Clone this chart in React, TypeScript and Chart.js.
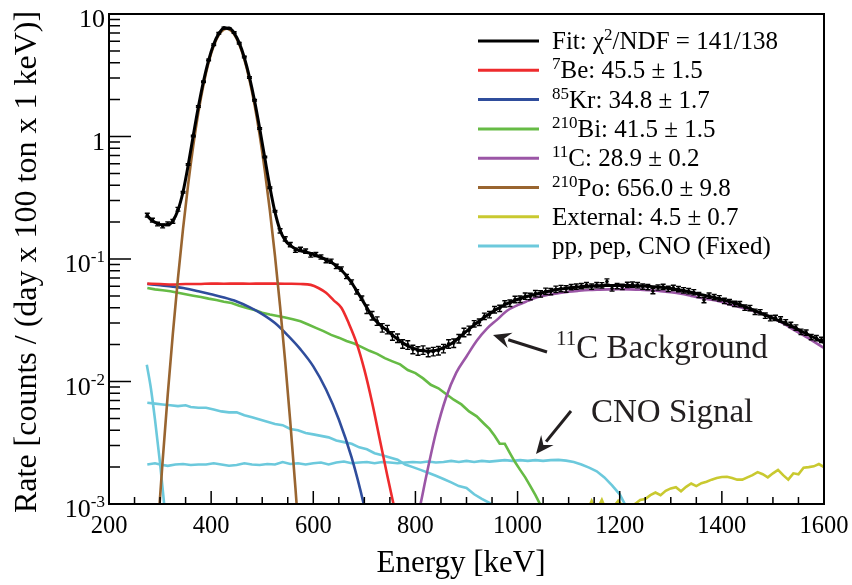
import React, { useEffect, useRef } from "react";
import { Chart, registerables } from "chart.js";

Chart.register(...registerables);

const SERIF = '"Liberation Serif", "Times New Roman", Times, serif';

// ---------- measured spectrum (bin centres, keV) ----------
const BIN_E = [
  275, 285, 295, 305, 315, 325, 335, 345, 355, 365, 375, 385, 395, 405, 415, 425, 435, 445, 455, 465,
  475, 485, 495, 505, 515, 525, 535, 545, 555, 565, 575, 585, 595, 605, 615, 625, 635, 645, 655, 665,
  675, 685, 695, 705, 715, 725, 735, 745, 755, 765, 775, 785, 795, 805, 815, 825, 835, 845, 855, 865,
  875, 885, 895, 905, 915, 925, 935, 945, 955, 965, 975, 985, 995, 1005, 1015, 1025, 1035, 1045, 1055, 1065,
  1075, 1085, 1095, 1105, 1115, 1125, 1135, 1145, 1155, 1165, 1175, 1185, 1195, 1205, 1215, 1225, 1235, 1245, 1255, 1265,
  1275, 1285, 1295, 1305, 1315, 1325, 1335, 1345, 1355, 1365, 1375, 1385, 1395, 1405, 1415, 1425, 1435, 1445, 1455, 1465,
  1475, 1485, 1495, 1505, 1515, 1525, 1535, 1545, 1555, 1565, 1575, 1585, 1595,
];

const DATA_RATE = [
  0.228, 0.208, 0.193, 0.186, 0.194, 0.203, 0.255, 0.35, 0.59, 1.01,
  1.76, 2.8, 4.22, 5.62, 6.95, 7.7, 7.6, 7.05, 5.78, 4.45,
  3.03, 1.98, 1.16, 0.68, 0.382, 0.245, 0.17, 0.146, 0.131, 0.118,
  0.12, 0.116, 0.108, 0.109, 0.104, 0.097, 0.096, 0.087, 0.083, 0.072,
  0.065, 0.054, 0.048, 0.039, 0.0345, 0.0312, 0.0275, 0.0266, 0.0236, 0.0226,
  0.0203, 0.0199, 0.0183, 0.0178, 0.0181, 0.0173, 0.0176, 0.0179, 0.0186, 0.0203,
  0.0206, 0.0224, 0.0252, 0.0262, 0.0296, 0.0305, 0.0341, 0.0352, 0.0386, 0.0396,
  0.0431, 0.0436, 0.0468, 0.047, 0.0498, 0.0495, 0.0522, 0.052, 0.0546, 0.0543,
  0.0567, 0.0575, 0.057, 0.059, 0.0595, 0.0601, 0.0612, 0.0596, 0.0612, 0.0611,
  0.0655, 0.0575, 0.0602, 0.0592, 0.0615, 0.0618, 0.0612, 0.0596, 0.0591, 0.0548,
  0.0586, 0.0592, 0.0571, 0.0581, 0.0568, 0.0556, 0.0547, 0.0536, 0.0509, 0.0462,
  0.0502, 0.0489, 0.0478, 0.0455, 0.0445, 0.0431, 0.0428, 0.0401, 0.0398, 0.0371,
  0.0368, 0.0345, 0.0329, 0.0331, 0.0322, 0.0305, 0.029, 0.0276, 0.0255, 0.0251,
  0.0231, 0.0226, 0.0219,
];

// relative statistical error per energy band: [from keV, to keV, fraction]
const ERR_BANDS: [number, number, number][] = [
  [270, 340, 0.035],
  [340, 530, 0.015],
  [530, 700, 0.04],
  [700, 910, 0.08],
  [910, 1100, 0.06],
  [1100, 1600, 0.05],
];

// ---------- total fit ----------
const FIT_E = [...BIN_E, 1600];
const FIT_RATE = [
  0.225, 0.205, 0.195, 0.19, 0.19, 0.205, 0.25, 0.354, 0.582, 1.017,
  1.745, 2.82, 4.19, 5.66, 6.92, 7.66, 7.67, 6.99, 5.81, 4.41,
  3.06, 1.96, 1.17, 0.67, 0.387, 0.241, 0.172, 0.142, 0.129, 0.121,
  0.117, 0.114, 0.111, 0.107, 0.103, 0.099, 0.094, 0.088, 0.081, 0.073,
  0.064, 0.055, 0.047, 0.04, 0.034, 0.0305, 0.028, 0.026, 0.024, 0.0222,
  0.0207, 0.0195, 0.0187, 0.0181, 0.0178, 0.0177, 0.0178, 0.0182, 0.0189, 0.0198,
  0.021, 0.0228, 0.0247, 0.0268, 0.029, 0.0312, 0.0334, 0.0357, 0.038, 0.0402,
  0.0423, 0.0442, 0.046, 0.0476, 0.049, 0.0503, 0.0515, 0.0527, 0.0538, 0.055,
  0.056, 0.0568, 0.0576, 0.0583, 0.0589, 0.0594, 0.0598, 0.0601, 0.0604, 0.0606,
  0.0607, 0.0608, 0.0608, 0.0608, 0.0607, 0.0606, 0.0604, 0.0602, 0.0599, 0.0595,
  0.059, 0.0584, 0.0577, 0.0569, 0.056, 0.055, 0.0539, 0.0528, 0.0517, 0.0506,
  0.0495, 0.0484, 0.0473, 0.0462, 0.045, 0.0437, 0.0423, 0.0408, 0.0393, 0.0378,
  0.0363, 0.0349, 0.0336, 0.0323, 0.031, 0.0297, 0.0284, 0.0271, 0.0258, 0.0246,
  0.0234, 0.0223, 0.0213, 0.0208,
];

// ---------- fit components ----------
const BE7_E = [275, 300, 325, 350, 375, 400, 425, 450, 475, 500, 525, 550, 575, 595, 610, 625, 640, 655, 670, 685, 700, 715, 730, 745, 760];
const BE7_RATE = [0.063, 0.0625, 0.062, 0.0625, 0.0625, 0.063, 0.0628, 0.063, 0.0628, 0.063, 0.063, 0.0628, 0.0625, 0.0615, 0.058, 0.053, 0.046, 0.04, 0.0295, 0.0205, 0.0125, 0.0068, 0.0034, 0.0017, 0.00088];

const KR85_E = [275, 300, 325, 350, 375, 400, 425, 450, 475, 500, 525, 550, 575, 600, 625, 650, 675, 700, 710];
const KR85_RATE = [0.0625, 0.061, 0.0595, 0.0575, 0.0545, 0.0515, 0.0485, 0.045, 0.0405, 0.0355, 0.03, 0.0238, 0.0183, 0.0133, 0.0086, 0.0049, 0.0024, 0.00095, 0.0006];

const BI210_E = [
  275, 290, 305, 320, 335, 350, 365, 380, 395, 410, 425, 440, 455, 470, 485, 500, 515, 530, 545, 560,
  575, 590, 605, 620, 635, 650, 665, 680, 695, 710, 725, 740, 755, 770, 785, 800, 815, 830, 845, 860,
  875, 890, 905, 920, 935, 945, 955, 965, 975, 985, 995, 1005, 1015, 1025, 1035, 1045, 1055,
];
const BI210_RATE = [
  0.058, 0.0565, 0.0555, 0.0545, 0.053, 0.0515, 0.0502, 0.049, 0.0475, 0.0462, 0.0448, 0.0437, 0.0415, 0.0398, 0.0384, 0.0364, 0.0352, 0.0342, 0.0333, 0.0322,
  0.031, 0.0292, 0.0274, 0.0258, 0.024, 0.0228, 0.0214, 0.0204, 0.0191, 0.0178, 0.0168, 0.0155, 0.0146, 0.0138, 0.0124, 0.0117, 0.0106, 0.0094, 0.0088, 0.0079,
  0.0071, 0.0065, 0.0057, 0.0052, 0.0045, 0.0041, 0.0036, 0.0031, 0.0031, 0.0026, 0.0022, 0.0019, 0.00165, 0.0014, 0.00118, 0.00098, 0.0007,
];

const C11_E = [
  800, 810, 820, 840, 860, 880, 900, 920, 940, 960, 980, 1000, 1020, 1040, 1060, 1080, 1100, 1120, 1140, 1160,
  1180, 1200, 1220, 1240, 1260, 1280, 1300, 1320, 1340, 1360, 1380, 1400, 1420, 1440, 1460, 1480, 1500, 1520, 1540, 1560,
  1580, 1600,
];
const C11_RATE = [
  0.0007, 0.001, 0.0016, 0.0038, 0.0074, 0.0118, 0.016, 0.0215, 0.027, 0.032, 0.038, 0.042, 0.0455, 0.049, 0.051, 0.0525, 0.054, 0.055, 0.0558, 0.0562,
  0.0565, 0.0566, 0.0565, 0.0562, 0.0555, 0.0547, 0.0535, 0.052, 0.05, 0.048, 0.0465, 0.0445, 0.042, 0.04, 0.0378, 0.0355, 0.033, 0.0298, 0.0265, 0.0238,
  0.0212, 0.0188,
];

const PO210_E = [
  285, 295, 305, 315, 325, 335, 345, 355, 365, 375, 385, 395, 405, 415, 425, 430, 435, 445, 455, 465,
  475, 485, 495, 505, 515, 525, 535, 545, 555, 565, 575,
];
const PO210_RATE = [
  0.00013, 0.00058, 0.00224, 0.0078, 0.0245, 0.0694, 0.177, 0.407, 0.844, 1.574, 2.65, 4.02, 5.49, 6.76, 7.5, 7.6, 7.51, 6.83, 5.65, 4.26,
  2.91, 1.816, 1.028, 0.53, 0.249, 0.106, 0.0411, 0.0145, 0.00466, 0.00136, 0.00036,
];

const EXT_E = [
  1100, 1110, 1120, 1130, 1140, 1145, 1150, 1160, 1165, 1170, 1180, 1190, 1197, 1205, 1215, 1230, 1240, 1250, 1260, 1270,
  1280, 1290, 1300, 1310, 1320, 1330, 1340, 1350, 1360, 1370, 1380, 1390, 1400, 1410, 1420, 1430, 1440, 1450, 1460, 1470,
  1480, 1490, 1500, 1510, 1520, 1530, 1540, 1550, 1560, 1570, 1580, 1590, 1600,
];
const EXT_RATE = [
  0.0006, 0.0007, 0.0008, 0.0009, 0.00095, 0.00106, 0.00095, 0.00098, 0.00108, 0.00096, 0.0009, 0.00097, 0.00106, 0.00097, 0.00094, 0.001, 0.00108, 0.0011, 0.00118, 0.00124,
  0.00118, 0.00128, 0.00134, 0.00137, 0.00127, 0.00138, 0.00147, 0.0014, 0.00148, 0.00152, 0.00158, 0.00163, 0.00166, 0.00167, 0.00163, 0.00158, 0.00158, 0.00165, 0.00172, 0.00182,
  0.00175, 0.00165, 0.00178, 0.0019, 0.00172, 0.00158, 0.00178, 0.00175, 0.00198, 0.002, 0.00203, 0.00212, 0.002,
];

const PP_E = [274, 282, 290, 300, 308, 314];
const PP_RATE = [0.0137, 0.0088, 0.0049, 0.00215, 0.001, 0.0006];

const PEP_E = [
  275, 290, 305, 320, 335, 350, 360, 375, 390, 405, 420, 435, 450, 465, 480, 495, 510, 525, 540, 555,
  570, 585, 600, 615, 630, 645, 660, 675, 690, 705, 720, 735, 750, 765, 780, 795, 810, 825, 840, 855,
  870, 885, 900, 915, 930, 945, 955,
];
const PEP_RATE = [
  0.0067, 0.0066, 0.0065, 0.0064, 0.0063, 0.0064, 0.0062, 0.0061, 0.0061, 0.0059, 0.0057, 0.0056, 0.0056, 0.0053, 0.0051, 0.0049, 0.0047, 0.0045, 0.0044, 0.0041,
  0.004, 0.0038, 0.0037, 0.0036, 0.0035, 0.0033, 0.0032, 0.0031, 0.0029, 0.0028, 0.0026, 0.0025, 0.0024, 0.0023, 0.0021, 0.002, 0.0019, 0.0018, 0.0017, 0.0016,
  0.0015, 0.0014, 0.00135, 0.0012, 0.0011, 0.00102, 0.00095,
];

const CNO_E = [
  275, 290, 300, 315, 330, 345, 360, 375, 390, 405, 420, 435, 450, 465, 480, 495, 510, 525, 540, 555,
  570, 585, 600, 615, 630, 645, 660, 675, 690, 705, 720, 735, 750, 765, 780, 795, 810, 825, 840, 855,
  870, 885, 900, 915, 930, 945, 960, 975, 990, 1005, 1020, 1035, 1050, 1065, 1080, 1095, 1110, 1125, 1140, 1155,
  1170, 1185, 1200, 1210, 1220,
];
const CNO_RATE = [
  0.0021, 0.00215, 0.0021, 0.00205, 0.0021, 0.00212, 0.00208, 0.0021, 0.0021, 0.00215, 0.0021, 0.00205, 0.00208, 0.00215, 0.0021, 0.00208, 0.00212, 0.0021, 0.0022, 0.00212,
  0.00215, 0.0021, 0.00215, 0.00218, 0.0021, 0.00218, 0.00222, 0.00215, 0.00218, 0.0022, 0.00215, 0.0022, 0.00218, 0.00215, 0.00218, 0.0022, 0.00218, 0.00222, 0.00218, 0.0022,
  0.00225, 0.0022, 0.00225, 0.0022, 0.00225, 0.00222, 0.00225, 0.00228, 0.00225, 0.00228, 0.00225, 0.00228, 0.00225, 0.00228, 0.00229, 0.00226, 0.0022, 0.0021, 0.00198, 0.00185,
  0.00165, 0.00142, 0.0012, 0.001, 0.0008,
];

// ---------- axes ----------
const X_MIN = 200;
const X_MAX = 1600;
const X_LABELS = [200, 400, 600, 800, 1000, 1200, 1400, 1600];
const X_MINOR_STEP = 50;
const Y_MIN = 0.001;
const Y_MAX = 10;
const Y_DECADES = [0.001, 0.01, 0.1, 1, 10];
const Y_LABELS: { v: number; base: string; exp: string }[] = [
  { v: 10, base: "10", exp: "" },
  { v: 1, base: "1", exp: "" },
  { v: 0.1, base: "10", exp: "-1" },
  { v: 0.01, base: "10", exp: "-2" },
  { v: 0.001, base: "10", exp: "-3" },
];

// ---------- colours ----------
const COL_FIT = "#000000";
const COL_BE7 = "#ee2b2d";
const COL_KR = "#2f4d9c";
const COL_BI = "#66bb45";
const COL_C11 = "#9b56a6";
const COL_PO = "#996530";
const COL_EXT = "#c9c930";
const COL_NU = "#6cc9dc";
const COL_NOTE = "#231f20";

type Part = { t: string; sup?: boolean };

const LEGEND: { color: string; width: number; parts: Part[] }[] = [
  { color: COL_FIT, width: 3.2, parts: [{ t: "Fit: \u03c7" }, { t: "2", sup: true }, { t: "/NDF = 141/138" }] },
  { color: COL_BE7, width: 3, parts: [{ t: "7", sup: true }, { t: "Be: 45.5 \u00b1 1.5" }] },
  { color: COL_KR, width: 3, parts: [{ t: "85", sup: true }, { t: "Kr: 34.8 \u00b1 1.7" }] },
  { color: COL_BI, width: 3, parts: [{ t: "210", sup: true }, { t: "Bi: 41.5 \u00b1 1.5" }] },
  { color: COL_C11, width: 3, parts: [{ t: "11", sup: true }, { t: "C: 28.9 \u00b1 0.2" }] },
  { color: COL_PO, width: 3, parts: [{ t: "210", sup: true }, { t: "Po: 656.0 \u00b1 9.8" }] },
  { color: COL_EXT, width: 3, parts: [{ t: "External: 4.5 \u00b1 0.7" }] },
  { color: COL_NU, width: 3, parts: [{ t: "pp, pep, CNO (Fixed)" }] },
];

const toXY = (E: number[], V: number[]) => E.map((x, i) => ({ x, y: V[i] }));

function relErr(e: number): number {
  for (const [a, b, r] of ERR_BANDS) if (e >= a && e < b) return r;
  return 0.05;
}

function drawRich(
  ctx: CanvasRenderingContext2D,
  x: number,
  y: number,
  parts: Part[],
  size: number,
  supSize: number,
  raise: number
) {
  let cx = x;
  for (const p of parts) {
    ctx.font = `${p.sup ? supSize : size}px ${SERIF}`;
    ctx.fillText(p.t, cx, p.sup ? y - raise : y);
    cx += ctx.measureText(p.t).width;
  }
  return cx;
}

function arrow(ctx: CanvasRenderingContext2D, x0: number, y0: number, x1: number, y1: number) {
  const ang = Math.atan2(y1 - y0, x1 - x0);
  const head = 18;
  const half = 8;
  const bx = x1 - head * Math.cos(ang);
  const by = y1 - head * Math.sin(ang);
  ctx.beginPath();
  ctx.moveTo(x0, y0);
  ctx.lineTo(bx + 2 * Math.cos(ang), by + 2 * Math.sin(ang));
  ctx.stroke();
  ctx.beginPath();
  ctx.moveTo(x1, y1);
  ctx.lineTo(bx + half * Math.sin(ang), by - half * Math.cos(ang));
  ctx.lineTo(bx + 0.35 * head * Math.cos(ang), by + 0.35 * head * Math.sin(ang));
  ctx.lineTo(bx - half * Math.sin(ang), by + half * Math.cos(ang));
  ctx.closePath();
  ctx.fill();
}

const decorations = {
  id: "decorations",
  beforeDraw(chart: any) {
    const { ctx, width, height } = chart;
    ctx.save();
    ctx.fillStyle = "#ffffff";
    ctx.fillRect(0, 0, width, height);
    ctx.restore();
  },
  afterDatasetsDraw(chart: any) {
    const { ctx, chartArea } = chart;
    const xs = chart.scales.x;
    const ys = chart.scales.y;
    ctx.save();
    ctx.beginPath();
    ctx.rect(chartArea.left, chartArea.top, chartArea.right - chartArea.left, chartArea.bottom - chartArea.top);
    ctx.clip();
    ctx.strokeStyle = "#000";
    ctx.lineWidth = 1.4;
    BIN_E.forEach((e, i) => {
      const v = DATA_RATE[i];
      const r = relErr(e);
      const px = xs.getPixelForValue(e);
      const y1 = ys.getPixelForValue(v * (1 + r));
      const y2 = ys.getPixelForValue(v * (1 - r));
      ctx.beginPath();
      ctx.moveTo(px, y1);
      ctx.lineTo(px, y2);
      ctx.moveTo(px - 2.5, y1);
      ctx.lineTo(px + 2.5, y1);
      ctx.moveTo(px - 2.5, y2);
      ctx.lineTo(px + 2.5, y2);
      ctx.stroke();
    });
    ctx.restore();
  },
  afterDraw(chart: any) {
    const { ctx, chartArea } = chart;
    const xs = chart.scales.x;
    const ys = chart.scales.y;
    const { left, right, top, bottom } = chartArea;
    ctx.save();

    // frame
    ctx.strokeStyle = "#000";
    ctx.lineWidth = 2;
    ctx.strokeRect(left, top, right - left, bottom - top);

    // x ticks
    ctx.lineWidth = 1.5;
    ctx.beginPath();
    for (let e = X_MIN; e <= X_MAX; e += X_MINOR_STEP) {
      const px = xs.getPixelForValue(e);
      const len = X_LABELS.includes(e) ? 13 : 7;
      ctx.moveTo(px, bottom);
      ctx.lineTo(px, bottom - len);
    }
    // y ticks
    for (const d of Y_DECADES) {
      for (let m = 1; m <= 9; m++) {
        const v = d * m;
        if (v > Y_MAX * 1.0001) break;
        const py = ys.getPixelForValue(v);
        ctx.moveTo(left, py);
        ctx.lineTo(left + (m === 1 ? 22 : 11), py);
      }
    }
    ctx.stroke();

    // tick labels
    ctx.fillStyle = "#000";
    ctx.textBaseline = "alphabetic";
    ctx.font = `24.5px ${SERIF}`;
    ctx.textAlign = "center";
    for (const e of X_LABELS) {
      ctx.fillText(String(e), xs.getPixelForValue(e), 533);
    }
    ctx.textAlign = "left";
    for (const lab of Y_LABELS) {
      const py = ys.getPixelForValue(lab.v);
      ctx.font = `26px ${SERIF}`;
      const wb = ctx.measureText(lab.base).width;
      ctx.font = `17px ${SERIF}`;
      const we = lab.exp ? ctx.measureText(lab.exp).width : 0;
      const x0 = 105 - wb - we;
      const base = py + 13;
      ctx.font = `26px ${SERIF}`;
      ctx.fillText(lab.base, x0, base);
      if (lab.exp) {
        ctx.font = `17px ${SERIF}`;
        ctx.fillText(lab.exp, x0 + wb, base - 10);
      }
    }

    // axis titles
    ctx.font = `31px ${SERIF}`;
    ctx.textAlign = "center";
    ctx.fillText("Energy [keV]", 461, 572);
    ctx.save();
    ctx.translate(36, 262);
    ctx.rotate(-Math.PI / 2);
    ctx.font = `32px ${SERIF}`;
    ctx.fillText("Rate [counts / (day x 100 ton x 1 keV)]", 0, 0);
    ctx.restore();

    // legend
    ctx.textAlign = "left";
    LEGEND.forEach((item, i) => {
      const ry = 41 + i * 29.3;
      ctx.strokeStyle = item.color;
      ctx.lineWidth = item.width;
      ctx.beginPath();
      ctx.moveTo(478, ry);
      ctx.lineTo(539, ry);
      ctx.stroke();
      ctx.fillStyle = "#000";
      drawRich(ctx, 552, ry + 8, item.parts, 25, 17, 9);
    });

    // annotations
    ctx.fillStyle = COL_NOTE;
    ctx.strokeStyle = COL_NOTE;
    drawRich(ctx, 556, 358, [{ t: "11", sup: true }, { t: "C Background" }], 33, 21, 13);
    ctx.font = `33px ${SERIF}`;
    ctx.fillText("CNO Signal", 591, 422);
    ctx.lineWidth = 3;
    arrow(ctx, 547, 352, 493, 335);
    arrow(ctx, 571, 411, 536, 454);

    ctx.restore();
  },
};

function line(label: string, E: number[], V: number[], color: string, width: number, smooth: boolean) {
  return {
    label,
    data: toXY(E, V),
    borderColor: color,
    backgroundColor: color,
    borderWidth: width,
    pointRadius: 0,
    fill: false,
    tension: smooth ? 0.4 : 0,
    cubicInterpolationMode: smooth ? "monotone" : "default",
  };
}

export default function App() {
  const canvasRef = useRef<HTMLCanvasElement | null>(null);

  useEffect(() => {
    const canvas = canvasRef.current;
    if (!canvas) return;
    const chart = new Chart(canvas, {
      type: "line",
      data: {
        datasets: [
          {
            label: "Data",
            data: toXY(BIN_E, DATA_RATE),
            showLine: false,
            pointRadius: 1.8,
            pointBackgroundColor: "#000",
            pointBorderWidth: 0,
            borderColor: "#000",
          } as any,
          line("Fit", FIT_E, FIT_RATE, COL_FIT, 3, true),
          line("11C", C11_E, C11_RATE, COL_C11, 2.6, true),
          line("210Po", PO210_E, PO210_RATE, COL_PO, 2.6, true),
          line("7Be", BE7_E, BE7_RATE, COL_BE7, 2.6, true),
          line("85Kr", KR85_E, KR85_RATE, COL_KR, 2.6, true),
          line("210Bi", BI210_E, BI210_RATE, COL_BI, 2.6, false),
          line("CNO", CNO_E, CNO_RATE, COL_NU, 2.6, false),
          line("pep", PEP_E, PEP_RATE, COL_NU, 2.6, false),
          line("pp", PP_E, PP_RATE, COL_NU, 2.6, true),
          line("External", EXT_E, EXT_RATE, COL_EXT, 2.6, false),
        ],
      },
      options: {
        animation: false,
        responsive: false,
        maintainAspectRatio: false,
        events: [],
        layout: { padding: { top: 14, right: 28, left: 0, bottom: 0 } },
        plugins: {
          legend: { display: false },
          tooltip: { enabled: false },
          title: { display: false },
        },
        scales: {
          x: {
            type: "linear",
            min: X_MIN,
            max: X_MAX,
            grid: { display: false },
            border: { display: false },
            ticks: { display: false },
            afterFit: (s: any) => {
              s.height = 81;
            },
          },
          y: {
            type: "logarithmic",
            min: Y_MIN,
            max: Y_MAX,
            grid: { display: false },
            border: { display: false },
            ticks: { display: false },
            afterFit: (s: any) => {
              s.width = 109;
            },
          },
        },
      } as any,
      plugins: [decorations],
    });
    return () => chart.destroy();
  }, []);

  return (
    <div style={{ position: "absolute", left: 0, top: 0, width: 852, height: 585, background: "#fff" }}>
      <canvas ref={canvasRef} width={852} height={585} style={{ display: "block" }} />
    </div>
  );
}
